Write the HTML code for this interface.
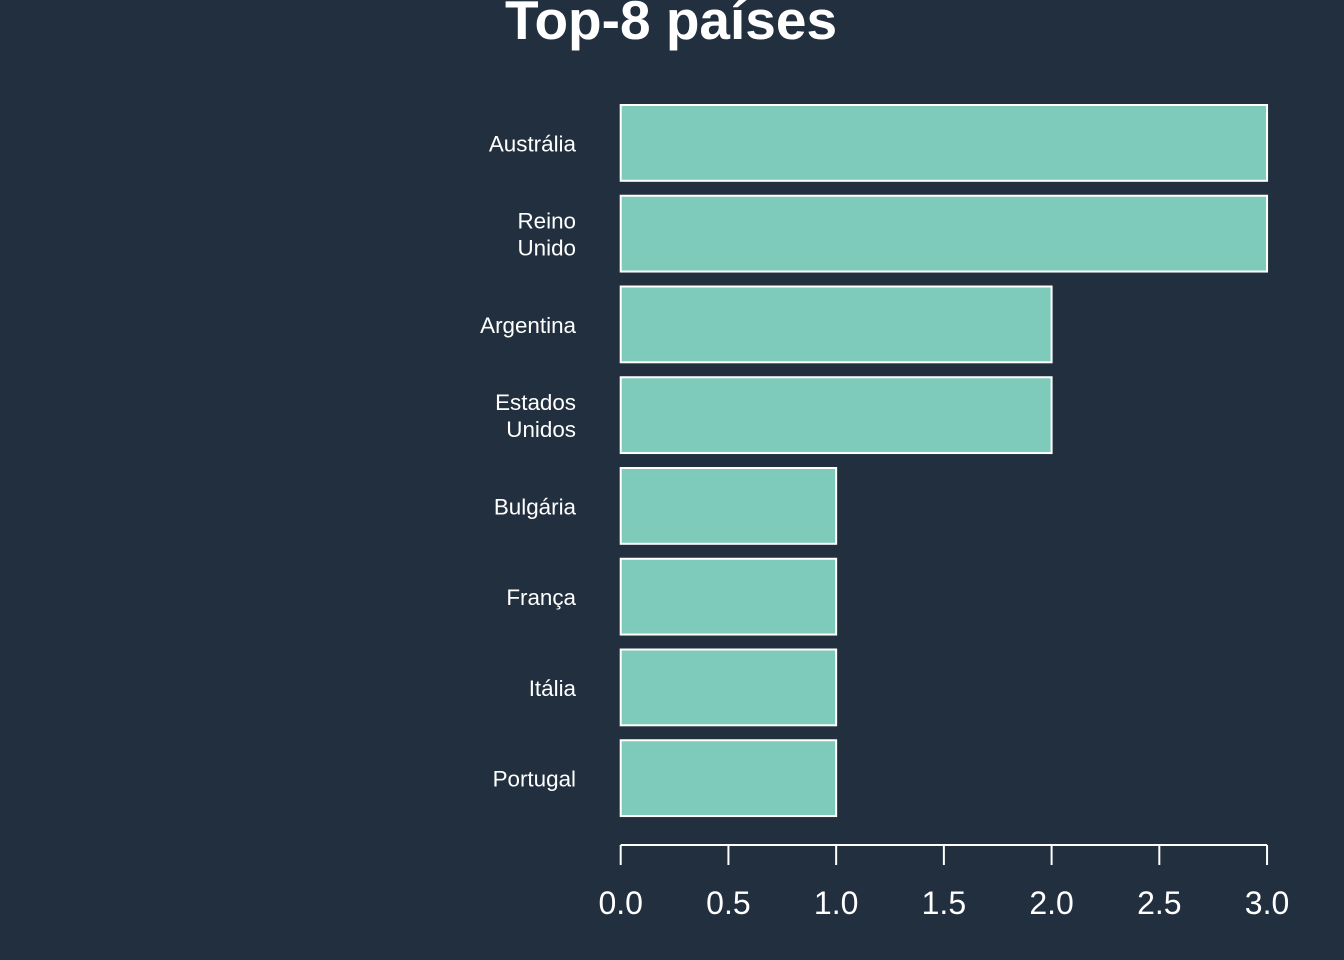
<!DOCTYPE html>
<html lang="pt">
<head>
<meta charset="utf-8">
<title>Top-8 países</title>
<style>
  html, body { margin: 0; padding: 0; background: #222f3f; }
  svg { display: block; font-family: "Liberation Sans", Arial, sans-serif; }
</style>
</head>
<body>
<svg id="chart" xmlns="http://www.w3.org/2000/svg" width="1344" height="960" viewBox="0 0 1344 960">
  <rect x="0" y="0" width="1344" height="960" fill="#222f3f"/>
  <text x="671" y="39" text-anchor="middle" font-size="55" font-weight="700" fill="#ffffff">Top-8 países</text>
  <g id="bars"></g>
  <g id="labels"></g>
  <g id="axis"></g>
</svg>
<script>
const categories = [["Austrália"], ["Reino", "Unido"], ["Argentina"], ["Estados", "Unidos"], ["Bulgária"], ["França"], ["Itália"], ["Portugal"]];
const values = [3, 3, 2, 2, 1, 1, 1, 1];
const ticks = [0, 0.5, 1, 1.5, 2, 2.5, 3];
const tickLabels = ["0.0", "0.5", "1.0", "1.5", "2.0", "2.5", "3.0"];

const NS = "http://www.w3.org/2000/svg";
const barsG = document.getElementById("bars");
const labelsG = document.getElementById("labels");
const axisG = document.getElementById("axis");

function xScale(v) { return 620.7 + v * 215.45; }
function yScale(i) { return 105 + i * 90.75; }
const barHeight = 75.8;

function make(tag, attrs, parent) {
  const el = document.createElementNS(NS, tag);
  for (const k in attrs) el.setAttribute(k, attrs[k]);
  parent.appendChild(el);
  return el;
}

values.forEach(function (v, i) {
  const bar = make("rect", {
    x: xScale(0), y: yScale(i), width: xScale(v) - xScale(0), height: barHeight,
    fill: "#7fcbbb", stroke: "#ffffff", "stroke-width": 2
  }, barsG);
  
  

  const lines = categories[i];
  const center = yScale(i) + barHeight / 2;
  lines.forEach(function (line, j) {
    const t = make("text", {
      x: 576,
      y: center + 8.5 + (j - (lines.length - 1) / 2) * 27,
      "text-anchor": "end", "font-size": 22.4, fill: "#ffffff"
    }, labelsG);
    t.textContent = line;
    
    
  });
});

const axisLine = make("line", {
  x1: xScale(ticks[0]), x2: xScale(ticks[ticks.length - 1]), y1: 845, y2: 845,
  stroke: "#ffffff", "stroke-width": 2
}, axisG);



ticks.forEach(function (v, i) {
  const tick = make("line", {
    x1: xScale(v), x2: xScale(v), y1: 845, y2: 865,
    stroke: "#ffffff", "stroke-width": 2
  }, axisG);
  
  

  const label = make("text", {
    x: xScale(v), y: 914, "text-anchor": "middle", "font-size": 32, fill: "#ffffff"
  }, axisG);
  label.textContent = tickLabels[i];
  
  
});
</script>
</body>
</html>
